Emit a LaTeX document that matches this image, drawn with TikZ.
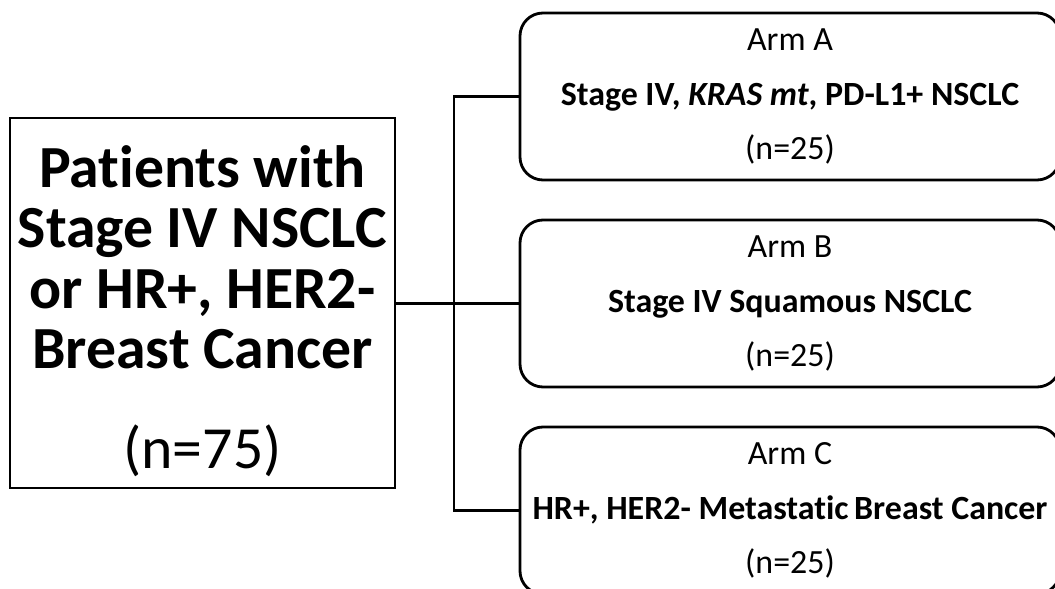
\documentclass[tikz,border=0pt]{standalone}
\usepackage{fontspec}
\setmainfont{Carlito}[Ligatures=NoCommon]
\begin{document}
\begin{tikzpicture}[
		line width=1.6pt,
		ptsbox/.style={draw, minimum width=7.7cm, minimum height=7.4cm, align=center, font=\fontsize{34}{34.5}\selectfont},
		armbox/.style={draw, rounded corners=0.46cm, minimum width=10.8cm, minimum height=3.34cm, inner xsep=2pt, align=center, font=\fontsize{19.3}{31}\selectfont}
	]
		\useasboundingbox (0,0) rectangle (21.1,11.78);

		\node [ptsbox] (pts) at (4.05,5.72) {\rule{0pt}{1.15cm}\textbf{Patients with}\\\textbf{Stage IV NSCLC}\\\textbf{or HR+, HER2-}\\\textbf{Breast Cancer}\\[22pt](n=75)};

		\node [armbox] (armA) at (15.8,9.85) {Arm A\\\textbf{Stage IV, \textit{KRAS mt}, PD-L1+ NSCLC}\\(n=25)};
		\node [armbox] (armB) at (15.8,5.71) {Arm B\\\textbf{Stage IV Squamous NSCLC}\\(n=25)};
		\node [armbox] (armC) at (15.8,1.57) {Arm C\\\textbf{HR+, HER2- Metastatic\,Breast Cancer}\\(n=25)};

		\coordinate (fork) at (9.08,5.71);

		\draw (pts.east |- armB.west) -- (armB.west);
		\draw (armA.west) -- (fork |- armA.west) -- (fork |- armC.west) -- (armC.west);

		\end{tikzpicture}
\end{document}
